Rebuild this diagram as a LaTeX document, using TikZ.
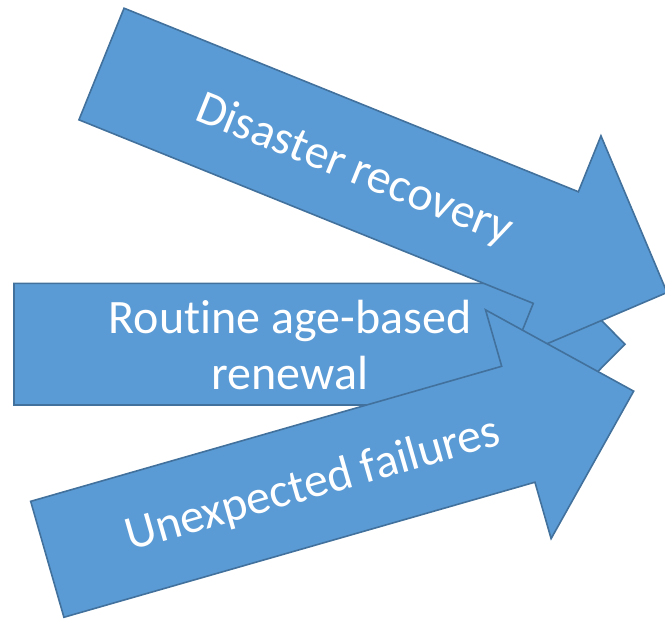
\documentclass[tikz,border=0pt]{standalone}
\usepackage{fontspec}
\setmainfont{Carlito}[Ligatures=NoCommon]
\definecolor{arrowfill}{HTML}{5B9BD5}
\definecolor{arrowline}{HTML}{41719C}
\tikzset{
  bigarrow/.style={fill=arrowfill, draw=arrowline, line width=1.6pt, line join=miter},
  arrowtext/.style={text=white, font=\fontsize{48}{56}\selectfont, align=center, inner sep=0pt}
}
\begin{document}
\begin{tikzpicture}[x=1pt,y=1pt]
\useasboundingbox (0,0) rectangle (665,-619);
% Routine age-based renewal
\begin{scope}[shift={(14,-344.2)}]
  \draw[bigarrow] (0,-60.8) -- (491,-60.8) -- (491,-120.8) -- (611,0) -- (491,120.8) -- (491,60.8) -- (0,60.8) -- cycle;
  \node[arrowtext] (routine) at (276,-1) {Routine age-based\\renewal};
\end{scope}
% Disaster recovery
\begin{scope}[shift={(101.5,-64)}, rotate=-22]
  \draw[bigarrow] (0,-60.2) -- (490,-60.2) -- (490,-120.5) -- (610,0) -- (490,120.5) -- (490,60.2) -- (0,60.2) -- cycle;
  \node[arrowtext, rotate=-22] (disaster) at (274,-4) {Disaster recovery};
\end{scope}
% Unexpected failures
\begin{scope}[shift={(47.3,-559.3)}, rotate=16]
  \draw[bigarrow] (0,-60.3) -- (490,-60.3) -- (490,-119) -- (610,0) -- (490,119) -- (490,60.3) -- (0,60.3) -- cycle;
  \node[arrowtext, rotate=16] (unexpected) at (276,-2) {Unexpected failures};
\end{scope}
\end{tikzpicture}
\end{document}
